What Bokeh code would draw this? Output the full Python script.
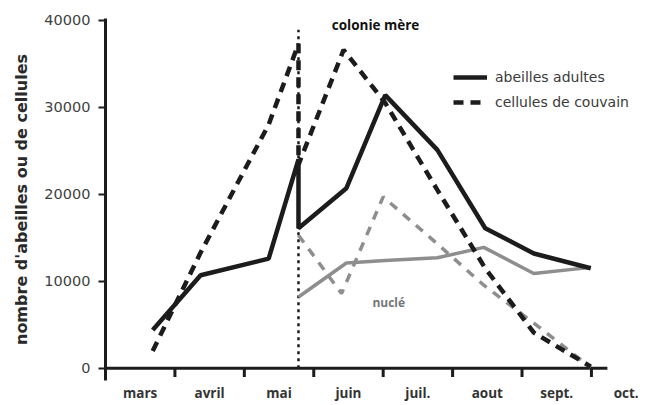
from bokeh.plotting import figure
from bokeh.models import Range1d, FixedTicker, Legend, LegendItem, Label
from bokeh.embed import file_html
from bokeh.resources import INLINE

# ---- data (months counted from 1 March) ----
months = ["mars", "avril", "mai", "juin", "juil.", "aout", "sept.", "oct."]
month_starts = [0, 1, 2, 3, 4, 5, 6, 7]
month_mids = [0.5, 1.5, 2.5, 3.5, 4.5, 5.5, 6.5, 7.5]

y_ticks = [0, 10000, 20000, 30000, 40000]
y_tick_labels = ["0", "10000", "20000", "30000", "40000"]

swarm_x = [2.78]
swarm_top = [38900]

mother_adult_x = [0.68, 1.37, 2.35, 2.78, 2.78, 3.47, 4.03, 4.78, 5.47, 6.17, 6.99]
mother_adult_y = [4400, 10700, 12600, 24000, 16100, 20700, 31400, 25100, 16100, 13200, 11500]

mother_brood_x = [0.68, 1.37, 2.35, 2.78, 2.78, 3.43, 4.03, 4.78, 5.47, 6.17, 6.99]
mother_brood_y = [2000, 13300, 28000, 37300, 23400, 36600, 30500, 20500, 11500, 4100, 200]

nuc_adult_x = [2.78, 3.47, 4.03, 4.78, 5.45, 6.17, 6.99]
nuc_adult_y = [8200, 12100, 12400, 12700, 13900, 10900, 11600]

nuc_brood_x = [2.78, 3.40, 4.00, 4.78, 5.45, 6.17, 6.99]
nuc_brood_y = [15300, 8600, 19700, 14300, 9550, 5200, 100]

axis_end = 7.23
tick_depth = 1000

BLACK = "#1c1c1c"
GREY = "#8e8e8e"

p = figure(width=653, height=405, output_backend="svg", toolbar_location=None,
           x_range=Range1d(0, 7.75), y_range=Range1d(-1400, 40200),
           min_border_left=105, min_border_right=10, min_border_top=18, min_border_bottom=25)
p.outline_line_color = None
p.grid.visible = False
p.background_fill_color = "white"

# y axis
p.yaxis.ticker = FixedTicker(ticks=y_ticks)
p.yaxis.major_label_overrides = {t: s for t, s in zip(y_ticks, y_tick_labels)}
p.yaxis.axis_line_width = 3
p.yaxis.axis_line_color = BLACK
p.yaxis.major_tick_line_width = 2
p.yaxis.major_tick_line_color = BLACK
p.yaxis.major_tick_out = 7
p.yaxis.major_tick_in = 0
p.yaxis.minor_tick_line_color = None
p.yaxis.major_label_text_font = "DejaVu Sans"
p.yaxis.major_label_text_font_size = "14.5px"
p.yaxis.major_label_text_color = "#3f3f3f"
p.yaxis.major_label_standoff = 8
p.yaxis.axis_label = "nombre d'abeilles ou de cellules"
p.yaxis.axis_label_text_font = "DejaVu Sans"
p.yaxis.axis_label_text_font_style = "bold"
p.yaxis.axis_label_text_font_size = "16px"
p.yaxis.axis_label_text_color = "#2a2a2a"
p.yaxis.axis_label_standoff = 10

# x axis: month names between month boundaries
p.xaxis.ticker = FixedTicker(ticks=month_mids)
p.xaxis.major_label_overrides = {m: s for m, s in zip(month_mids, months)}
p.xaxis.axis_line_color = None
p.xaxis.major_tick_line_color = None
p.xaxis.minor_tick_line_color = None
p.xaxis.major_tick_out = 0
p.xaxis.major_tick_in = 0
p.xaxis.major_label_standoff = 3
p.xaxis.major_label_text_font = "Open Sans"
p.xaxis.major_label_text_font_style = "bold"
p.xaxis.major_label_text_font_size = "13.5px"
p.xaxis.major_label_text_color = "#333333"

# x axis line at zero and month boundary ticks
p.segment(x0=[0], x1=[axis_end], y0=[0], y1=[0], line_color=BLACK, line_width=3)
p.segment(x0=month_starts, x1=month_starts, y0=[0] * len(month_starts),
          y1=[-tick_depth] * len(month_starts), line_color=BLACK, line_width=3)

# swarm date
p.segment(x0=swarm_x, x1=swarm_x, y0=[0], y1=swarm_top, line_color=BLACK,
          line_width=2.5, line_dash="3 4")

# nucleus
r_nb = p.line(nuc_brood_x, nuc_brood_y, line_color=GREY, line_width=3.5, line_dash="9 8")
r_na = p.line(nuc_adult_x, nuc_adult_y, line_color=GREY, line_width=3.5)

# mother colony
r_mb = p.line(mother_brood_x, mother_brood_y, line_color=BLACK, line_width=4.5, line_dash="10 7")
r_ma = p.line(mother_adult_x, mother_adult_y, line_color=BLACK, line_width=4.5)

legend = Legend(items=[LegendItem(label="abeilles adultes", renderers=[r_ma]),
                       LegendItem(label="cellules de couvain", renderers=[r_mb])],
                location=(348, 268), padding=0, margin=0, spacing=5,
                glyph_width=34, glyph_height=20, label_standoff=8,
                label_text_font="DejaVu Sans", label_text_font_size="14px",
                label_text_color="#3a3a3a",
                border_line_color=None, background_fill_alpha=0)
p.add_layout(legend)

p.add_layout(Label(x=3.89, y=39500, text="colonie mère", text_align="center",
                   text_baseline="middle", text_font="Open Sans", text_font_style="bold",
                   text_font_size="13.5px", text_color="#111111"))
p.add_layout(Label(x=4.08, y=7600, text="nuclé", text_align="center",
                   text_baseline="middle", text_font="Open Sans", text_font_style="bold",
                   text_font_size="12px", text_color="#777777"))

open("out.html", "w").write(file_html(p, INLINE))
